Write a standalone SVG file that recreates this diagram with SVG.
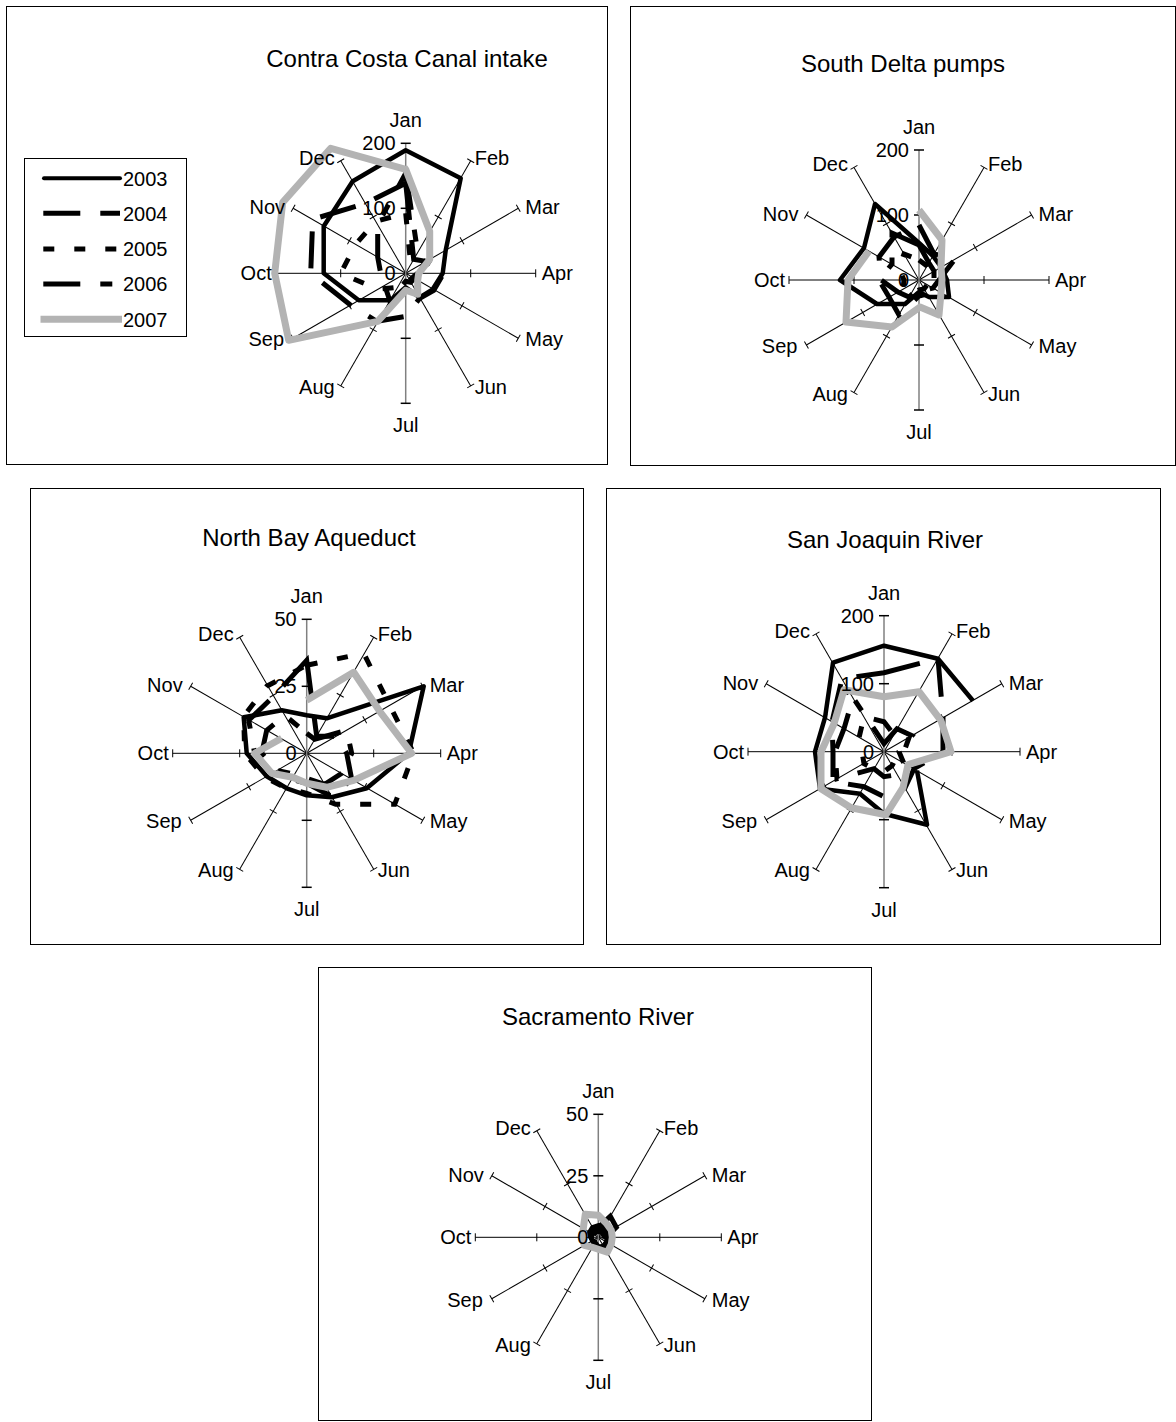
<svg xmlns="http://www.w3.org/2000/svg" xmlns:xlink="http://www.w3.org/1999/xlink" width="1176" height="1422" viewBox="0 0 1176 1422">
<style>
.box{fill:#fff;stroke:#000;stroke-width:1}
text{font-family:"Liberation Sans",Arial,sans-serif;font-size:20px;fill:#000}
.ttl{font-size:24px;text-anchor:middle}
.m{text-anchor:middle}
.e{text-anchor:end}
.sp line{stroke:#000;stroke-width:1}
.va line{stroke:#808080;stroke-width:1.5}
.va line.tk{stroke:#000;stroke-width:1.5}
.s3{fill:none;stroke:#000;stroke-width:4.5;stroke-linejoin:round}
.s4{fill:none;stroke:#000;stroke-width:5;stroke-dasharray:37 20}
.s5{fill:none;stroke:#000;stroke-width:5;stroke-dasharray:11 20}
.s6{fill:none;stroke:#000;stroke-width:5;stroke-dasharray:37 20 12 20}
.s7{fill:none;stroke:#b3b3b3;stroke-width:7;stroke-linejoin:round}
</style>
<defs>
<g id="k130" class="sp"><line x1="0" y1="0" x2="0" y2="-130"/><line x1="-4" y1="-65" x2="4" y2="-65"/><line x1="-4" y1="-130" x2="4" y2="-130"/></g>
<g id="k134" class="sp"><line x1="0" y1="0" x2="0" y2="-134"/><line x1="-4" y1="-67" x2="4" y2="-67"/><line x1="-4" y1="-134" x2="4" y2="-134"/></g>
<g id="k136" class="sp"><line x1="0" y1="0" x2="0" y2="-136"/><line x1="-4" y1="-68" x2="4" y2="-68"/><line x1="-4" y1="-136" x2="4" y2="-136"/></g>
<g id="k123" class="sp"><line x1="0" y1="0" x2="0" y2="-123"/><line x1="-4" y1="-61.5" x2="4" y2="-61.5"/><line x1="-4" y1="-123" x2="4" y2="-123"/></g>
</defs>
<rect x="0" y="0" width="1176" height="1422" fill="#fff"/>

<!-- Chart 1 -->
<g id="chart-contra-costa">
<rect class="box" x="6.5" y="6.5" width="601" height="458"/>
<text class="ttl" x="407" y="67">Contra Costa Canal intake</text>
<g id="legend">
<rect class="box" x="24.5" y="158.5" width="162" height="178"/>
<line class="s3" x1="44" y1="178.3" x2="120" y2="178.3" style="stroke-width:4;stroke-linecap:round"/>
<line class="s4" x1="43.3" y1="213.3" x2="120" y2="213.3"/>
<line class="s5" x1="43.3" y1="249" x2="120" y2="249"/>
<line class="s6" x1="43.3" y1="284" x2="120" y2="284"/>
<line class="s7" x1="40.5" y1="319.3" x2="122" y2="319.3"/>
<text x="123" y="185.5">2003</text>
<text x="123" y="220.5">2004</text>
<text x="123" y="256">2005</text>
<text x="123" y="291">2006</text>
<text x="123" y="326.5">2007</text>
</g>
<g transform="translate(405.7,273.3)">
<use href="#k130" transform="rotate(30)"/><use href="#k130" transform="rotate(60)"/><use href="#k130" transform="rotate(90)"/><use href="#k130" transform="rotate(120)"/><use href="#k130" transform="rotate(150)"/><use href="#k130" transform="rotate(210)"/><use href="#k130" transform="rotate(240)"/><use href="#k130" transform="rotate(270)"/><use href="#k130" transform="rotate(300)"/><use href="#k130" transform="rotate(330)"/>
<g class="va"><line x1="0" y1="-130" x2="0" y2="130"/><line class="tk" x1="-5" y1="-130" x2="5" y2="-130"/><line class="tk" x1="-5" y1="-65" x2="5" y2="-65"/><line class="tk" x1="-5" y1="65" x2="5" y2="65"/><line class="tk" x1="-5" y1="130" x2="5" y2="130"/></g>
<g id="c1-series">
<path class="s3" d="M0,-123 L55,-95 L40,-23 L37,0 L27,16 L14,24 L0,14 L-15,27 L-47,27 L-82,0 L-82,-47 L-53,-92 Z"/>
<path class="s4" d="M0,-90 L8,-14 L20,-12 L38,0 L28,17 L14,25 L0,43 L-29,48 L-55,32 L-95,0 L-93,-54 L-40,-70 Z"/>
<path class="s5" d="M0,-60 L5,-9 L9,-5 L12,0 L7,4 L4,7 L0,6 L-8,14 L-28,16 L-65,0 L-50,-29 L-30,-52 Z"/>
<path class="s6" d="M0,-100 L12,-21 L19,-11 L14,0 L9,5 L5,9 L0,8 L-16,27 L-21,12 L-25,0 L-28,-16 L-28,-49 Z"/>
<path class="s7" d="M0,-104 L24,-42 L24,-14 L13,0 L12,7 L12,21 L0,17 L-28,48 L-117,67 L-131,0 L-123,-71 L-75,-125 Z"/>
</g>
<text class="e" x="-10" y="-123">200</text><text class="e" x="-10" y="-58">100</text><text class="e" x="-10" y="7">0</text>
<text class="m" x="0" y="-146">Jan</text><text x="69" y="-108.6">Feb</text><text x="119.6" y="-59">Mar</text><text x="136" y="7">Apr</text><text x="119.6" y="73">May</text><text x="69" y="120.6">Jun</text><text class="m" x="0" y="159">Jul</text><text class="e" x="-71" y="120.6">Aug</text><text class="e" x="-121.6" y="73">Sep</text><text class="e" x="-134" y="7">Oct</text><text class="e" x="-120.6" y="-59">Nov</text><text class="e" x="-71" y="-108.6">Dec</text>
</g>
</g>

<!-- Chart 2 -->
<g id="chart-south-delta">
<rect class="box" x="630.5" y="6.5" width="545" height="459"/>
<text class="ttl" x="903" y="72">South Delta pumps</text>
<g transform="translate(919,280)">
<use href="#k130" transform="rotate(30)"/><use href="#k130" transform="rotate(60)"/><use href="#k130" transform="rotate(90)"/><use href="#k130" transform="rotate(120)"/><use href="#k130" transform="rotate(150)"/><use href="#k130" transform="rotate(210)"/><use href="#k130" transform="rotate(240)"/><use href="#k130" transform="rotate(270)"/><use href="#k130" transform="rotate(300)"/><use href="#k130" transform="rotate(330)"/>
<g class="va"><line x1="0" y1="-130" x2="0" y2="130"/><line class="tk" x1="-5" y1="-130" x2="5" y2="-130"/><line class="tk" x1="-5" y1="-65" x2="5" y2="-65"/><line class="tk" x1="-5" y1="65" x2="5" y2="65"/><line class="tk" x1="-5" y1="130" x2="5" y2="130"/></g>
<g id="c2-series">
<path class="s3" d="M0,-37 L14,-24 L22,-13 L28,0 L30,17 L10,17 L0,12 L-14,24 L-42,24 L-79,0 L-55,-32 L-44,-76 Z"/>
<path class="s4" d="M0,-55 L15,-26 L36,-21 L20,0 L14,8 L6,10 L0,8 L-10,17 L-21,12 L-38,0 L-40,-23 L-25,-43 Z"/>
<path class="s5" d="M0,-20 L8,-14 L12,-7 L10,0 L8,5 L5,9 L0,10 L-8,14 L-16,9 L-15,0 L-20,-12 L-15,-26 Z"/>
<path class="s6" d="M0,-35 L10,-17 L15,-9 L15,0 L12,7 L8,14 L0,16 L-20,35 L-30,17 L-40,0 L-27,-16 L-27,-47 Z"/>
<path class="s7" d="M0,-70 L23,-40 L22,-13 L23,0 L22,13 L20,35 L1,27 L-27,47 L-73,42 L-71,0 L-50,-29"/>
</g>
<text class="e" x="-10" y="-123">200</text><text class="e" x="-10" y="-58">100</text><text class="e" x="-10" y="7">0</text>
<text class="m" x="0" y="-146">Jan</text><text x="69" y="-108.6">Feb</text><text x="119.6" y="-59">Mar</text><text x="136" y="7">Apr</text><text x="119.6" y="73">May</text><text x="69" y="120.6">Jun</text><text class="m" x="0" y="159">Jul</text><text class="e" x="-71" y="120.6">Aug</text><text class="e" x="-121.6" y="73">Sep</text><text class="e" x="-134" y="7">Oct</text><text class="e" x="-120.6" y="-59">Nov</text><text class="e" x="-71" y="-108.6">Dec</text>
</g>
</g>

<!-- Chart 3 -->
<g id="chart-north-bay">
<rect class="box" x="30.5" y="488.5" width="553" height="456"/>
<text class="ttl" x="309" y="546">North Bay Aqueduct</text>
<g transform="translate(306.7,753.3)">
<use href="#k134" transform="rotate(30)"/><use href="#k134" transform="rotate(60)"/><use href="#k134" transform="rotate(90)"/><use href="#k134" transform="rotate(120)"/><use href="#k134" transform="rotate(150)"/><use href="#k134" transform="rotate(210)"/><use href="#k134" transform="rotate(240)"/><use href="#k134" transform="rotate(270)"/><use href="#k134" transform="rotate(300)"/><use href="#k134" transform="rotate(330)"/>
<g class="va"><line x1="0" y1="-134" x2="0" y2="134"/><line class="tk" x1="-5" y1="-134" x2="5" y2="-134"/><line class="tk" x1="-5" y1="-67" x2="5" y2="-67"/><line class="tk" x1="-5" y1="67" x2="5" y2="67"/><line class="tk" x1="-5" y1="134" x2="5" y2="134"/></g>
<g id="c3-series">
<path class="s3" d="M0,-38 L20,-35 L117,-67 L102,0 L60,35 L25,44 L0,42 L-20,35 L-40,23 L-60,0 L-63,-36 L-25,-43 Z"/>
<path class="s4" d="M0,-93 L10,-17 L30,-17 L40,0 L45,26 L25,43 L0,30 L-15,26 L-35,20 L-52,0 L-58,-33 L-33,-57 Z"/>
<path class="s5" d="M0,-88 L57,-100 L83,-48 L107,0 L88,51 L29,51 L0,40 L-20,35 L-42,24 L-62,0 L-63,-37 L-40,-67 Z"/>
<path class="s6" d="M0,-20 L8,-14 L40,-23 L45,0 L35,20 L18,31 L0,25 L-12,21 L-30,17 L-45,0 L-40,-23 L-22,-38 Z"/>
<path class="s7" d="M0,-53 L47,-81 L73,-42 L105,0 L47,27 L20,34 L0,30 L-14,24 L-35,20 L-52,0 L-25,-15"/>
</g>
<text class="e" x="-10" y="-127">50</text><text class="e" x="-10" y="-60">25</text><text class="e" x="-10" y="7">0</text>
<text class="m" x="0" y="-150">Jan</text><text x="71" y="-112">Feb</text><text x="123" y="-61">Mar</text><text x="140" y="7">Apr</text><text x="123" y="75">May</text><text x="71" y="124">Jun</text><text class="m" x="0" y="163">Jul</text><text class="e" x="-73" y="124">Aug</text><text class="e" x="-125" y="75">Sep</text><text class="e" x="-138" y="7">Oct</text><text class="e" x="-124" y="-61">Nov</text><text class="e" x="-73" y="-112">Dec</text>
</g>
</g>

<!-- Chart 4 -->
<g id="chart-san-joaquin">
<rect class="box" x="606.5" y="488.5" width="554" height="456"/>
<text class="ttl" x="885" y="548">San Joaquin River</text>
<g transform="translate(884,751.7)">
<use href="#k136" transform="rotate(30)"/><use href="#k136" transform="rotate(60)"/><use href="#k136" transform="rotate(90)"/><use href="#k136" transform="rotate(120)"/><use href="#k136" transform="rotate(150)"/><use href="#k136" transform="rotate(210)"/><use href="#k136" transform="rotate(240)"/><use href="#k136" transform="rotate(270)"/><use href="#k136" transform="rotate(300)"/><use href="#k136" transform="rotate(330)"/>
<g class="va"><line x1="0" y1="-136" x2="0" y2="136"/><line class="tk" x1="-5" y1="-136" x2="5" y2="-136"/><line class="tk" x1="-5" y1="-68" x2="5" y2="-68"/><line class="tk" x1="-5" y1="68" x2="5" y2="68"/><line class="tk" x1="-5" y1="136" x2="5" y2="136"/></g>
<g id="c4-series">
<path class="s3" d="M33,19 L43,73 L0,62 L-24,42 L-64,37 L-69,0 L-59,-34 L-51,-89 L0,-106 L54,-93 L89,-51"/>
<path class="s4" d="M0,-79 L54,-93 L59,-34 L59,0 L30,17 L21,36 L0,45 L-20,35 L-51,30 L-51,0 L-52,-30 L-42,-73 Z"/>
<path class="s5" d="M0,-30 L10,-17 L25,-14 L20,0 L12,7 L8,14 L0,20 L-10,17 L-20,12 L-22,0 L-25,-14 L-20,-35 Z"/>
<path class="s6" d="M0,-8 L13,-23 L28,-16 L15,0 L20,12 L13,23 L0,25 L-10,17 L-47,27 L-49,0 L-40,-23 L-31,-54 Z"/>
<path class="s7" d="M0,-55 L35,-60 L57,-31 L67,0 L24,13 L19,36 L2,63 L-33,56 L-63,37 L-63,0 L-50,-28 L-40,-62 Z"/>
</g>
<text class="e" x="-10" y="-129">200</text><text class="e" x="-10" y="-61">100</text><text class="e" x="-10" y="7">0</text>
<text class="m" x="0" y="-152">Jan</text><text x="72" y="-113.8">Feb</text><text x="124.8" y="-62">Mar</text><text x="142" y="7">Apr</text><text x="124.8" y="76">May</text><text x="72" y="125.8">Jun</text><text class="m" x="0" y="165">Jul</text><text class="e" x="-74" y="125.8">Aug</text><text class="e" x="-126.8" y="76">Sep</text><text class="e" x="-140" y="7">Oct</text><text class="e" x="-125.8" y="-62">Nov</text><text class="e" x="-74" y="-113.8">Dec</text>
</g>
</g>

<!-- Chart 5 -->
<g id="chart-sacramento">
<rect class="box" x="318.5" y="967.5" width="553" height="453"/>
<text class="ttl" x="598" y="1025">Sacramento River</text>
<g transform="translate(598.3,1237.3)">
<use href="#k123" transform="rotate(30)"/><use href="#k123" transform="rotate(60)"/><use href="#k123" transform="rotate(90)"/><use href="#k123" transform="rotate(120)"/><use href="#k123" transform="rotate(150)"/><use href="#k123" transform="rotate(210)"/><use href="#k123" transform="rotate(240)"/><use href="#k123" transform="rotate(270)"/><use href="#k123" transform="rotate(300)"/><use href="#k123" transform="rotate(330)"/>
<g class="va"><line x1="0" y1="-123" x2="0" y2="123"/><line class="tk" x1="-5" y1="-123" x2="5" y2="-123"/><line class="tk" x1="-5" y1="-61.5" x2="5" y2="-61.5"/><line class="tk" x1="-5" y1="61.5" x2="5" y2="61.5"/><line class="tk" x1="-5" y1="123" x2="5" y2="123"/></g>
<g id="c5-series">
<path class="s3" d="M0,-12 L6,-11 L9,-5 L12,0 L12,7 L7,12 L0,9 L-3,5 L-6,3 L-8,0 L-9,-5 L-6,-10 Z"/>
<path class="s4" d="M0,-10 L12,-21 L18,-10 L8,0 L6,4 L4,7 L0,6 L-3,5 L-6,3 L-7,0 L-6,-3 L-4,-7 Z"/>
<path class="s5" d="M0,-6 L3,-5 L5,-3 L6,0 L5,3 L3,5 L0,6 L-3,5 L-5,3 L-6,0 L-5,-3 L-3,-5 Z"/>
<path class="s6" d="M0,-8 L4,-7 L7,-4 L9,0 L8,5 L5,9 L0,10 L-4,7 L-6,3 L-7,0 L-6,-3 L-4,-7 Z"/>
<path class="s7" d="M0,-22 L8,-14 L13,-7 L14,0 L13,7 L9,15 L0,12 L-6,10 L-14,8 L-16,0 L-15,-9 L-13,-23 Z"/>
</g>
<text class="e" x="-10" y="-116">50</text><text class="e" x="-10" y="-54.5">25</text><text class="e" x="-10" y="7">0</text>
<text class="m" x="0" y="-139">Jan</text><text x="65.5" y="-102.5">Feb</text><text x="113.5" y="-55.5">Mar</text><text x="129" y="7">Apr</text><text x="113.5" y="69.5">May</text><text x="65.5" y="114.5">Jun</text><text class="m" x="0" y="152">Jul</text><text class="e" x="-67.5" y="114.5">Aug</text><text class="e" x="-115.5" y="69.5">Sep</text><text class="e" x="-127" y="7">Oct</text><text class="e" x="-114.5" y="-55.5">Nov</text><text class="e" x="-67.5" y="-102.5">Dec</text>
</g>
</g>
</svg>
